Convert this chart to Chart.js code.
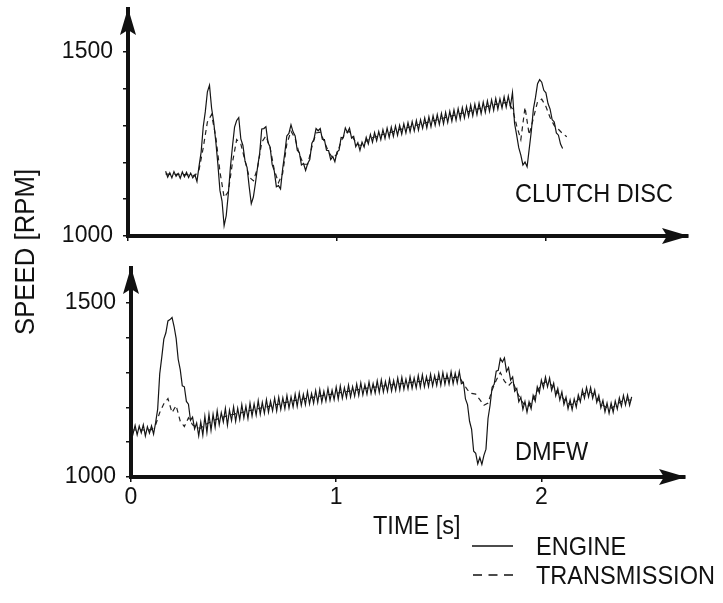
<!DOCTYPE html>
<html>
<head>
<meta charset="utf-8">
<title>Speed - clutch disc / DMFW</title>
<script src="https://cdn.jsdelivr.net/npm/chart.js@4.4.1/dist/chart.umd.min.js"></script>
<style>
  body { margin: 0; background: #fff; }
  #page { position: relative; width: 723px; height: 603px; overflow: hidden; font-family: "Liberation Sans", Arial, sans-serif; color: #111; }
  canvas { position: absolute; left: 0; }
  .lbl { position: absolute; font-size: 25px; line-height: 25px; white-space: nowrap; transform: scaleX(0.94); transform-origin: left center; }
  #ylabel { position: absolute; left: 25px; top: 252px; font-size: 28px; line-height: 28px; white-space: nowrap; transform: translate(-50%, -50%) rotate(-90deg) scaleX(0.92); }
  svg { position: absolute; left: 0; top: 0; }
</style>
</head>
<body>
<div id="page">
  <canvas id="chartTop" width="723" height="250" style="top:0"></canvas>
  <canvas id="chartBottom" width="723" height="275" style="top:250px"></canvas>
  <div id="ylabel">SPEED [RPM]</div>
  <div class="lbl" style="left:515px;top:181px">CLUTCH DISC</div>
  <div class="lbl" style="left:515px;top:439px">DMFW</div>
  <div class="lbl" style="left:373px;top:513px">TIME [s]</div>
  <svg width="723" height="603">
    <line x1="472" y1="546" x2="513" y2="546" stroke="#111" stroke-width="1.5"/>
    <line x1="473" y1="575" x2="513" y2="575" stroke="#111" stroke-width="1.5" stroke-dasharray="9 6.5"/>
  </svg>
  <div class="lbl" style="left:536px;top:534px">ENGINE</div>
  <div class="lbl" style="left:536px;top:563px">TRANSMISSION</div>
</div>

<script>
// Ejes
const timeTicks = [0, 1, 2];
const timeTickLabels = ['0', '1', '2'];
const speedTicks = [1000, 1100, 1200, 1300, 1400, 1500];
const speedTickLabels = ['1000', '', '', '', '', '1500'];

// Clutch disc (panel superior), muestras cada 0.01 s desde 0.18 s
const topEngineStart = 0.18;
const topEngineStep = 0.01;
const topEngineRpm = [
  1176, 1160, 1172, 1158, 1175, 1162, 1170, 1157, 1174, 1161,
  1173, 1159, 1171, 1158, 1166, 1148, 1190, 1228, 1297, 1338,
  1392, 1410, 1348, 1310, 1258, 1196, 1124, 1095, 1028, 1055,
  1114, 1186, 1244, 1296, 1314, 1322, 1264, 1246, 1204, 1186,
  1134, 1088, 1106, 1144, 1187, 1224, 1291, 1292, 1297, 1254,
  1242, 1194, 1177, 1134, 1137, 1128, 1182, 1224, 1272, 1279,
  1302, 1283, 1272, 1233, 1227, 1193, 1197, 1178, 1197, 1208,
  1252, 1263, 1292, 1286, 1292, 1263, 1262, 1233, 1232, 1208,
  1216, 1202, 1228, 1233, 1268, 1267, 1294, 1281, 1293, 1266,
  1271, 1243, 1254, 1233, 1255, 1242, 1268, 1250, 1276, 1255,
  1281, 1259, 1284, 1262, 1289, 1265, 1293, 1268, 1296, 1271,
  1299, 1274, 1301, 1277, 1305, 1280, 1308, 1283, 1311, 1286,
  1314, 1288, 1316, 1293, 1321, 1294, 1324, 1297, 1327, 1301,
  1330, 1303, 1333, 1305, 1336, 1309, 1339, 1312, 1343, 1315,
  1346, 1318, 1349, 1321, 1352, 1325, 1356, 1327, 1358, 1330,
  1361, 1333, 1364, 1336, 1367, 1339, 1370, 1342, 1374, 1345,
  1373, 1348, 1378, 1350, 1380, 1352, 1390, 1306, 1274, 1240,
  1220, 1193, 1201, 1188, 1236, 1284, 1345, 1376, 1414, 1425,
  1418, 1396, 1389, 1360, 1345, 1316, 1310, 1280, 1274, 1250,
  1238
];

// Transmisión superior, cada 0.02 s desde 0.18 s
const topTransStart = 0.18;
const topTransStep = 0.02;
const topTransmissionRpm = [
  1168, 1168, 1167, 1168, 1167, 1167, 1166, 1164, 1180, 1240,
  1310, 1330, 1270, 1175, 1105, 1120, 1200, 1262, 1250, 1205,
  1160, 1150, 1185, 1255, 1272, 1240, 1180, 1145, 1170, 1250,
  1285, 1265, 1222, 1195, 1195, 1242, 1280, 1282, 1256, 1228,
  1212, 1222, 1258, 1280, 1284, 1264, 1248, 1246, 1258, 1265,
  1269, 1273, 1276, 1279, 1282, 1286, 1289, 1292, 1295, 1298,
  1301, 1304, 1307, 1310, 1313, 1316, 1319, 1322, 1325, 1328,
  1331, 1334, 1337, 1340, 1343, 1346, 1349, 1352, 1355, 1358,
  1360, 1362, 1364, 1345, 1300, 1262, 1350, 1275, 1320, 1365,
  1372, 1352, 1322, 1300, 1290, 1278, 1270
];

// DMFW (panel inferior), cada 0.01 s desde 0 s
const bottomEngineStart = 0;
const bottomEngineStep = 0.01;
const bottomEngineRpm = [
  1142, 1124, 1148, 1121, 1146, 1127, 1150, 1118, 1144, 1126,
  1147, 1123, 1156, 1195, 1296, 1344, 1396, 1414, 1448, 1452,
  1458, 1432, 1398, 1338, 1308, 1262, 1259, 1217, 1209, 1163,
  1172, 1138, 1155, 1118, 1158, 1120, 1174, 1128, 1180, 1134,
  1180, 1143, 1190, 1150, 1185, 1158, 1197, 1149, 1192, 1162,
  1201, 1160, 1197, 1165, 1208, 1170, 1203, 1168, 1212, 1175,
  1210, 1178, 1219, 1180, 1214, 1183, 1222, 1186, 1218, 1190,
  1226, 1190, 1229, 1194, 1227, 1196, 1234, 1198, 1230, 1201,
  1238, 1203, 1241, 1206, 1237, 1208, 1245, 1210, 1240, 1212,
  1248, 1214, 1251, 1215, 1246, 1218, 1254, 1220, 1249, 1222,
  1258, 1224, 1261, 1226, 1256, 1228, 1264, 1230, 1259, 1232,
  1267, 1234, 1270, 1236, 1265, 1238, 1273, 1240, 1268, 1241,
  1276, 1243, 1279, 1244, 1274, 1246, 1281, 1247, 1277, 1249,
  1284, 1250, 1286, 1252, 1281, 1253, 1288, 1255, 1284, 1256,
  1291, 1258, 1293, 1259, 1288, 1260, 1295, 1262, 1291, 1263,
  1298, 1264, 1300, 1266, 1295, 1267, 1302, 1268, 1298, 1270,
  1303, 1268, 1272, 1224, 1208, 1160, 1137, 1074, 1068, 1038,
  1056, 1036, 1062, 1080, 1168, 1206, 1258, 1266, 1304, 1306,
  1340, 1330, 1342, 1303, 1314, 1278, 1287, 1246, 1254, 1216,
  1229, 1194, 1217, 1186, 1216, 1196, 1234, 1218, 1259, 1242,
  1278, 1256, 1287, 1259, 1284, 1249, 1269, 1233, 1254, 1221,
  1244, 1208, 1229, 1196, 1221, 1193, 1224, 1201, 1236, 1216,
  1250, 1226, 1257, 1230, 1257, 1226, 1249, 1214, 1234, 1199,
  1220, 1187, 1212, 1183, 1212, 1186, 1218, 1195, 1227, 1203,
  1234, 1207, 1235, 1206, 1230
];

// Transmisión inferior, cada 0.02 s desde 0 s
const bottomTransStart = 0;
const bottomTransStep = 0.02;
const bottomTransmissionRpm = [
  1135, 1135, 1136, 1135, 1135, 1136, 1150, 1185, 1210, 1225,
  1185, 1205, 1160, 1145, 1170, 1150, 1142, 1140, 1150, 1156,
  1162, 1166, 1170, 1174, 1178, 1180, 1183, 1185, 1188, 1191,
  1193, 1196, 1199, 1201, 1204, 1207, 1209, 1212, 1215, 1217,
  1220, 1222, 1224, 1226, 1228, 1230, 1232, 1234, 1236, 1238,
  1240, 1242, 1244, 1246, 1248, 1250, 1252, 1254, 1256, 1258,
  1259, 1261, 1262, 1264, 1265, 1267, 1268, 1270, 1271, 1273,
  1274, 1275, 1277, 1278, 1279, 1281, 1282, 1283, 1285, 1286,
  1287, 1268, 1250, 1240, 1238, 1222, 1206, 1212, 1250, 1278,
  1300, 1275, 1262, 1275, 1245, 1222, 1205, 1204, 1222, 1246,
  1265, 1273, 1270, 1256, 1241, 1230, 1216, 1208, 1210, 1222,
  1236, 1243, 1243, 1235, 1220, 1206, 1198, 1198, 1204, 1213,
  1220, 1221, 1221
];

// Pasar muestras a puntos {x, y}
function toPoints(start, step, values) {
  return values.map((v, i) => ({ x: +(start + i * step).toFixed(2), y: v }));
}

// Flechas al final de los ejes
const arrowPlugin = {
  id: 'axisArrows',
  afterDraw(chart) {
    const { ctx, chartArea: a } = chart;
    ctx.save();
    ctx.fillStyle = '#111';
    ctx.beginPath();
    ctx.moveTo(a.left, a.top - 1);
    ctx.lineTo(a.left - 8, a.top + 26);
    ctx.lineTo(a.left, a.top + 21);
    ctx.lineTo(a.left + 8, a.top + 26);
    ctx.closePath();
    ctx.fill();
    ctx.beginPath();
    ctx.moveTo(a.right + 1, a.bottom);
    ctx.lineTo(a.right - 26, a.bottom - 8);
    ctx.lineTo(a.right - 21, a.bottom);
    ctx.lineTo(a.right - 26, a.bottom + 8);
    ctx.closePath();
    ctx.fill();
    ctx.restore();
  }
};

Chart.defaults.font.family = '"Liberation Sans", Arial, sans-serif';
Chart.defaults.color = '#111';

function makePanel(canvasId, engine, transmission, cfg) {
  const ctx = document.getElementById(canvasId).getContext('2d');
  return new Chart(ctx, {
    type: 'line',
    data: {
      datasets: [{
        label: 'ENGINE',
        data: engine,
        borderColor: '#151515',
        borderWidth: 1.2,
        pointRadius: 0,
        tension: 0
      }, {
        label: 'TRANSMISSION',
        data: transmission,
        borderColor: '#222',
        borderWidth: 1.2,
        borderDash: [5, 4],
        pointRadius: 0,
        tension: 0
      }]
    },
    options: {
      responsive: false,
      animation: false,
      events: [],
      layout: { padding: cfg.padding },
      plugins: {
        legend: { display: false },
        tooltip: { enabled: false }
      },
      scales: {
        x: {
          type: 'linear',
          min: 0,
          max: cfg.xMax,
          afterBuildTicks: (scale) => { scale.ticks = timeTicks.map(v => ({ value: v })); },
          afterFit: (scale) => {
            scale.height = cfg.xHeight;
            scale.paddingLeft = 0;
            scale.paddingRight = 0;
          },
          grid: { drawOnChartArea: false, drawTicks: true, tickLength: 5, color: '#111', lineWidth: 1.5 },
          border: { display: true, color: '#111', width: 4 },
          ticks: {
            display: cfg.showTimeLabels,
            padding: 2,
            font: { size: 23 },
            callback: (v) => timeTickLabels[timeTicks.indexOf(v)] ?? ''
          }
        },
        y: {
          min: 1000,
          max: cfg.yMax,
          afterBuildTicks: (scale) => { scale.ticks = speedTicks.map(v => ({ value: v })); },
          afterFit: (scale) => {
            scale.width = cfg.yWidth;
            scale.paddingTop = 0;
            scale.paddingBottom = 0;
          },
          grid: { drawOnChartArea: false, drawTicks: true, tickLength: 5, color: '#111', lineWidth: 1.5 },
          border: { display: true, color: '#111', width: 4 },
          ticks: {
            padding: 10,
            font: { size: 23 },
            callback: (v) => speedTickLabels[speedTicks.indexOf(v)] ?? ''
          }
        }
      }
    },
    plugins: [arrowPlugin]
  });
}

// Panel superior: CLUTCH DISC
makePanel('chartTop',
  toPoints(topEngineStart, topEngineStep, topEngineRpm),
  toPoints(topTransStart, topTransStep, topTransmissionRpm),
  { padding: { left: 0, top: 9, right: 35, bottom: 0 }, xMax: 2.68, yMax: 1617, xHeight: 14, yWidth: 128, showTimeLabels: false });

// Panel inferior: DMFW
makePanel('chartBottom',
  toPoints(bottomEngineStart, bottomEngineStep, bottomEngineRpm),
  toPoints(bottomTransStart, bottomTransStep, bottomTransmissionRpm),
  { padding: { left: 0, top: 18, right: 38, bottom: 0 }, xMax: 2.7, yMax: 1600, xHeight: 48, yWidth: 131, showTimeLabels: true });
</script>
</body>
</html>
